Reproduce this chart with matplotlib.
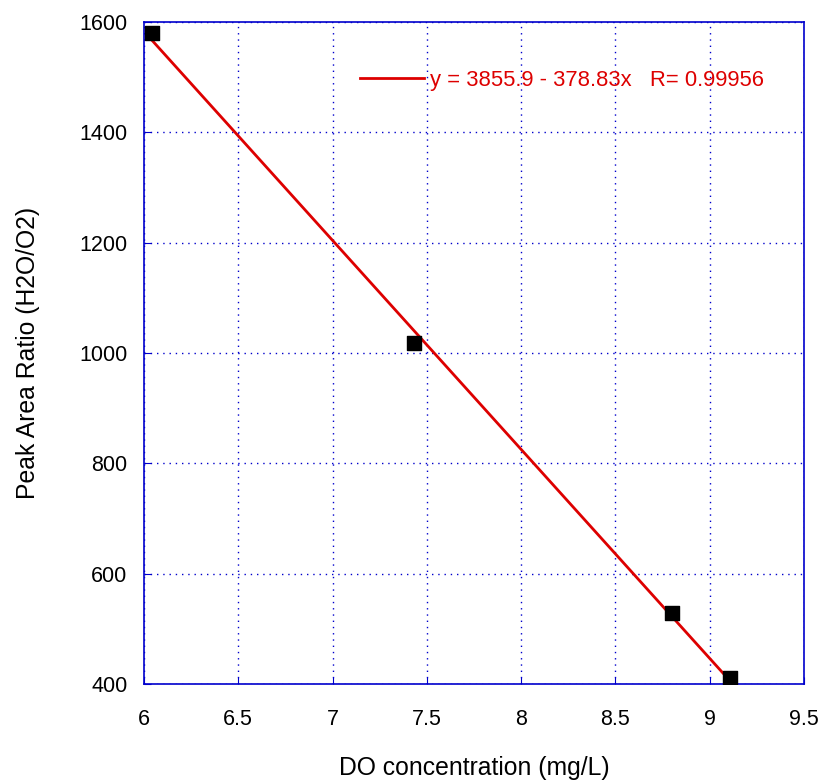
import matplotlib
matplotlib.use("Agg")
import matplotlib.pyplot as plt
import numpy as np

plt.rcParams['font.family'] = ['Liberation Sans', 'DejaVu Sans']

x_do = [6.04, 7.43, 8.80, 9.11]
y_ratio = [1580, 1018, 528, 411]
intercept = 3855.9
slope = -378.83
fit_label = "y = 3855.9 - 378.83x   R= 0.99956"
xticks = [6, 6.5, 7, 7.5, 8, 8.5, 9, 9.5]
xticklabels = ["6", "6.5", "7", "7.5", "8", "8.5", "9", "9.5"]
yticks = [400, 600, 800, 1000, 1200, 1400, 1600]

fig = plt.figure(figsize=(8.2, 7.8), dpi=100)
ax = fig.add_axes([144/820, 1-684/780, 660/820, 662/780])

xf = np.array([x_do[0], x_do[-1]])
ax.plot(xf, intercept + slope * xf, color='#dd0000', lw=2, zorder=3, label=fit_label)
ax.scatter(x_do, y_ratio, marker='s', s=95, color='black', zorder=4)

ax.set_xlim(6, 9.5)
ax.set_ylim(400, 1600)
ax.set_xticks(xticks)
ax.set_xticklabels(xticklabels)
ax.set_yticks(yticks)
ax.grid(True, color='#0000cc', linestyle=(0, (1, 3.5)), lw=1)
for s in ax.spines.values():
    s.set_color('#0000cc')
    s.set_linewidth(1.2)
ax.tick_params(direction='in', length=5, color='#0000cc', labelsize=15.5, pad=12)
ax.tick_params(axis='x', pad=18)
ax.set_xlabel("DO concentration (mg/L)", fontsize=17.8, labelpad=19)
ax.set_ylabel("Peak Area Ratio (H2O/O2)", fontsize=17.8, labelpad=28)

leg = ax.legend(loc='center left', bbox_to_anchor=(216/660, 0.912), frameon=False,
                fontsize=15.8, handlelength=2.9, handletextpad=0.3, borderaxespad=0,
                borderpad=0)
for t in leg.get_texts():
    t.set_color('#dd0000')

fig.savefig("out.png", dpi=100)
